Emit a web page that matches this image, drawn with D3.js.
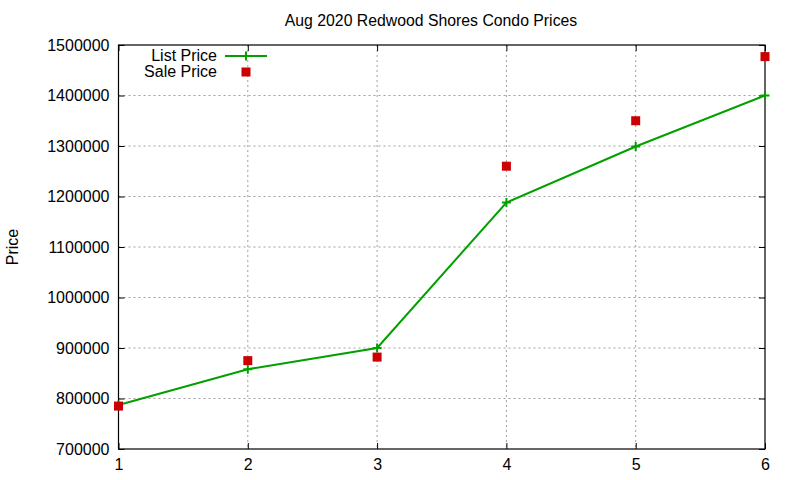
<!DOCTYPE html>
<html>
<head>
<meta charset="utf-8">
<script src="https://cdn.jsdelivr.net/npm/d3@7"></script>
<style>
  body { margin: 0; background: #fff; }
  text { font-family: "Liberation Sans", Arial, sans-serif; fill: #000; }
</style>
</head>
<body>
<div id="chart"></div>
<script>
// data
const units = [1, 2, 3, 4, 5, 6];
const listPrice = [787000, 858000, 900000, 1188000, 1299000, 1400000];
const salePrice = [785000, 875000, 882000, 1260000, 1350000, 1477000];
const yTicks = [700000, 800000, 900000, 1000000, 1100000, 1200000, 1300000, 1400000, 1500000];
const title = "Aug 2020 Redwood Shores Condo Prices";

const W = 800, H = 480;
const margin = { top: 45, right: 35, bottom: 31, left: 118.5 };
const width = 765 - margin.left;
const height = 449 - margin.top;

const svg = d3.select("#chart").append("svg")
    .attr("width", W)
    .attr("height", H);

const g = svg.append("g")
    .attr("transform", `translate(${margin.left},${margin.top})`);

const x = d3.scaleLinear().domain([1, 6]).range([0, width]);
const y = d3.scaleLinear().domain([700000, 1500000]).range([height, 0]);

// grid
g.append("g").selectAll("line")
    .data(units.slice(1, -1))
    .join("line")
    .attr("x1", d => x(d)).attr("x2", d => x(d))
    .attr("y1", 0).attr("y2", height)
    .attr("stroke", "#a0a0a0")
    .attr("stroke-dasharray", "2,3");

g.append("g").selectAll("line")
    .data(yTicks.slice(1, -1))
    .join("line")
    .attr("x1", 0).attr("x2", width)
    .attr("y1", d => y(d)).attr("y2", d => y(d))
    .attr("stroke", "#a0a0a0")
    .attr("stroke-dasharray", "2,3");

// axes, ticks pointing inward
const xAxis = g.append("g")
    .attr("transform", `translate(0,${height})`)
    .call(d3.axisBottom(x).tickValues(units).tickFormat(d3.format("d")).tickSizeInner(-6).tickSizeOuter(0).tickPadding(10));
const yAxis = g.append("g")
    .call(d3.axisLeft(y).tickValues(yTicks).tickFormat(d3.format("d")).tickSizeInner(-6).tickSizeOuter(0).tickPadding(9));
g.append("g")
    .call(d3.axisTop(x).tickValues(units).tickFormat("").tickSizeInner(-6).tickSizeOuter(0));
g.append("g")
    .attr("transform", `translate(${width},0)`)
    .call(d3.axisRight(y).tickValues(yTicks).tickFormat("").tickSizeInner(-6).tickSizeOuter(0));

g.selectAll(".domain").remove();
g.selectAll(".tick line").attr("stroke", "#000");
xAxis.selectAll("text").style("font-size", "16px");
yAxis.selectAll("text").style("font-size", "16px");

g.append("rect")
    .attr("width", width)
    .attr("height", height)
    .attr("fill", "none")
    .attr("stroke", "#000")
    .attr("stroke-width", 1.2);

// list price line
const line = d3.line()
    .x((d, i) => x(units[i]))
    .y(d => y(d));

g.append("path")
    .datum(listPrice)
    .attr("d", line)
    .attr("fill", "none")
    .attr("stroke", "#00a000")
    .attr("stroke-width", 2);

// plus markers
g.append("g").selectAll("path")
    .data(listPrice)
    .join("path")
    .attr("d", "M-4.5,0H4.5M0,-4.5V4.5")
    .attr("transform", (d, i) => `translate(${x(units[i])},${y(d)})`)
    .attr("stroke", "#00a000")
    .attr("stroke-width", 2);

// sale price squares
g.append("g").selectAll("rect")
    .data(salePrice)
    .join("rect")
    .attr("x", (d, i) => x(units[i]) - 4.5)
    .attr("y", d => y(d) - 4.5)
    .attr("width", 9)
    .attr("height", 9)
    .attr("fill", "#cc0000");

// legend
const leg = svg.append("g");
leg.append("text")
    .attr("x", 217).attr("y", 61)
    .attr("text-anchor", "end")
    .style("font-size", "16px")
    .text("List Price");
leg.append("line")
    .attr("x1", 225).attr("x2", 267)
    .attr("y1", 56).attr("y2", 56)
    .attr("stroke", "#00a000").attr("stroke-width", 2);
leg.append("path")
    .attr("d", "M-4.5,0H4.5M0,-4.5V4.5")
    .attr("transform", "translate(246,56)")
    .attr("stroke", "#00a000").attr("stroke-width", 2);
leg.append("text")
    .attr("x", 217).attr("y", 77)
    .attr("text-anchor", "end")
    .style("font-size", "16px")
    .text("Sale Price");
leg.append("rect")
    .attr("x", 241.5).attr("y", 67.5)
    .attr("width", 9).attr("height", 9)
    .attr("fill", "#cc0000");

// title and y label
svg.append("text")
    .attr("x", 431).attr("y", 26)
    .attr("text-anchor", "middle")
    .style("font-size", "15.8px")
    .text(title);

svg.append("text")
    .attr("transform", "translate(18,247) rotate(-90)")
    .attr("text-anchor", "middle")
    .style("font-size", "16px")
    .text("Price");
</script>
</body>
</html>
